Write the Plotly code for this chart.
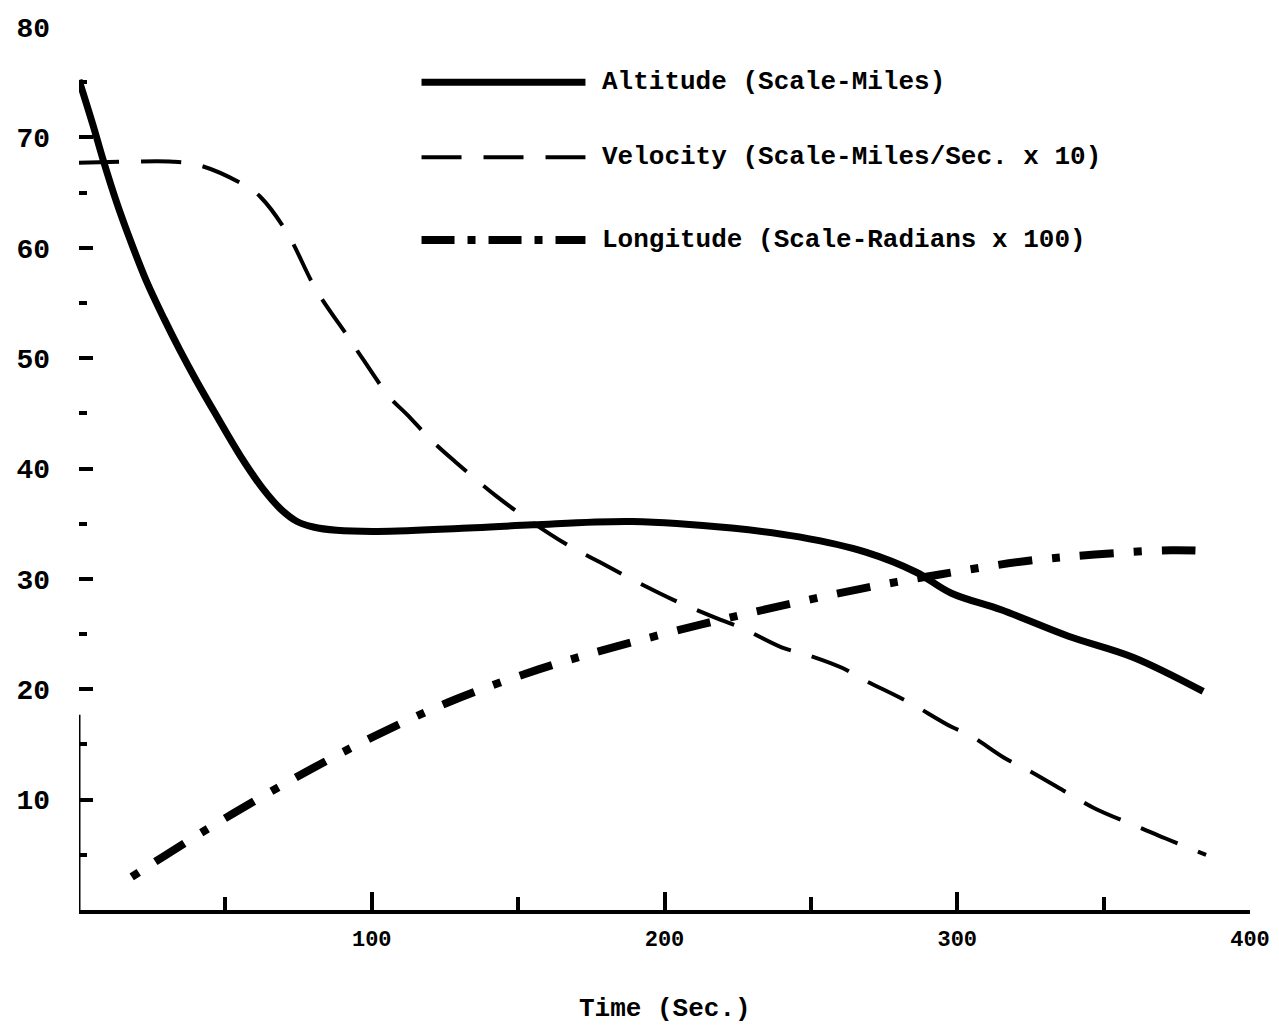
import plotly.graph_objects as go

# ---- data ----
alt_t = [0, 4.8, 8.2, 13, 17.5, 23, 29, 34.5, 40, 46.5, 55, 63, 69, 74.5, 80, 88, 102, 133, 155, 189, 223, 246, 269, 286, 298, 315, 338, 360, 384]
alt_v = [75.2, 71.1, 68.0, 64.0, 60.7, 57.0, 53.6, 50.7, 48.0, 45.0, 41.2, 38.1, 36.3, 35.2, 34.7, 34.4, 34.3, 34.6, 34.9, 35.2, 34.6, 33.8, 32.4, 30.6, 28.7, 27.2, 24.8, 22.9, 19.8]

vel_t = [0, 17, 32, 42, 57, 62, 71, 81, 92, 97, 106, 112, 121, 129, 143, 155, 168, 178, 193, 203, 219, 226, 240, 249, 261, 267, 280, 285, 298, 304, 316, 324, 339, 347, 363, 371, 385]
vel_v = [67.7, 67.8, 67.8, 67.4, 65.6, 64.6, 61.4, 56.2, 51.9, 49.9, 46.5, 44.9, 42.4, 40.5, 37.4, 35.1, 32.9, 31.5, 29.4, 28.1, 26.3, 25.6, 23.8, 23.1, 21.9, 21.0, 19.3, 18.6, 16.6, 15.9, 13.8, 12.7, 10.4, 9.2, 7.4, 6.5, 5.0]

lon_t = [18, 43, 68, 96, 126, 157, 184, 213, 239, 267, 294, 323, 347, 373, 388]
lon_v = [3.0, 7.2, 11.1, 15.1, 18.8, 21.8, 23.9, 25.9, 27.5, 29.1, 30.4, 31.6, 32.2, 32.6, 32.5]

series_names = ["Altitude (Scale-Miles)",
                "Velocity (Scale-Miles/Sec. x 10)",
                "Longitude (Scale-Radians x 100)"]

y_ticks = [10, 20, 30, 40, 50, 60, 70, 80]
y_minor = [5, 15, 25, 35, 45, 55, 65, 75]
x_ticks = [100, 200, 300, 400]
x_minor = [50, 150, 250, 350]

FONT = "Liberation Mono"
BLACK = "#000000"

fig = go.Figure()
fig.add_trace(go.Scatter(x=alt_t, y=alt_v, mode="lines", name=series_names[0],
                         line=dict(color=BLACK, width=7, shape="spline", smoothing=1.0),
                         showlegend=False))
fig.add_trace(go.Scatter(x=vel_t, y=vel_v, mode="lines", name=series_names[1],
                         line=dict(color=BLACK, width=4, dash="40px,22px", shape="spline", smoothing=1.0),
                         showlegend=False))
fig.add_trace(go.Scatter(x=lon_t, y=lon_v, mode="lines", name=series_names[2],
                         line=dict(color=BLACK, width=8, dash="8px,20px,34px,20px", shape="spline", smoothing=1.0),
                         showlegend=False))

# legend drawn as line samples + text
leg_y = [75.0, 68.2, 60.7]
leg_dash = ["solid", "40px,22px", "33px,13px,8px,13px"]
leg_w = [7, 4, 8]
for yy, d, w, name in zip(leg_y, leg_dash, leg_w, series_names):
    fig.add_shape(type="line", xref="x", yref="y", x0=117, x1=173, y0=yy, y1=yy,
                  line=dict(color=BLACK, width=w, dash=d))
    fig.add_annotation(x=178, y=yy, xref="x", yref="y", text=name, showarrow=False,
                       xanchor="left", yanchor="middle",
                       font=dict(family=FONT, size=26, color=BLACK, weight="bold"))

# partial vertical axis line near the origin (as in the reference)
fig.add_shape(type="line", xref="x", yref="y", x0=0, x1=0, y0=0, y1=17.7,
              line=dict(color=BLACK, width=3))

fig.add_annotation(x=0.5, y=-0.1121, xref="paper", yref="paper", text="Time (Sec.)",
                   showarrow=False, xanchor="center", yanchor="middle",
                   font=dict(family=FONT, size=26, color=BLACK, weight="bold"))

# page body has an 8px margin: size the figure so it fits the 1279x1033 window
fig.update_layout(
    width=1263, height=1017,
    margin=dict(l=71, r=21, t=19, b=115, autoexpand=False),
    paper_bgcolor="white", plot_bgcolor="white",
    font=dict(family=FONT, color=BLACK),
    showlegend=False,
)
fig.update_xaxes(range=[0, 400], showgrid=False, zeroline=False, automargin=False,
                 showline=True, linecolor=BLACK, linewidth=4,
                 ticks="inside", ticklen=18, tickwidth=4, tickcolor=BLACK,
                 tickvals=x_ticks, ticktext=[str(v) for v in x_ticks],
                 ticklabelstandoff=6,
                 tickfont=dict(family=FONT, size=22, color=BLACK, weight="bold"),
                 minor=dict(tickvals=x_minor, ticks="inside", ticklen=13, tickwidth=4,
                            tickcolor=BLACK, showgrid=False))
fig.update_yaxes(range=[0, 80], showgrid=False, zeroline=False, showline=False, automargin=False,
                 ticks="inside", ticklen=14, tickwidth=4, tickcolor=BLACK,
                 tickvals=y_ticks, ticktext=[str(v) for v in y_ticks],
                 ticklabelstandoff=28,
                 tickfont=dict(family=FONT, size=28, color=BLACK, weight="bold"),
                 minor=dict(tickvals=y_minor, ticks="inside", ticklen=8, tickwidth=4,
                            tickcolor=BLACK, showgrid=False))

fig.write_html("out.html")
